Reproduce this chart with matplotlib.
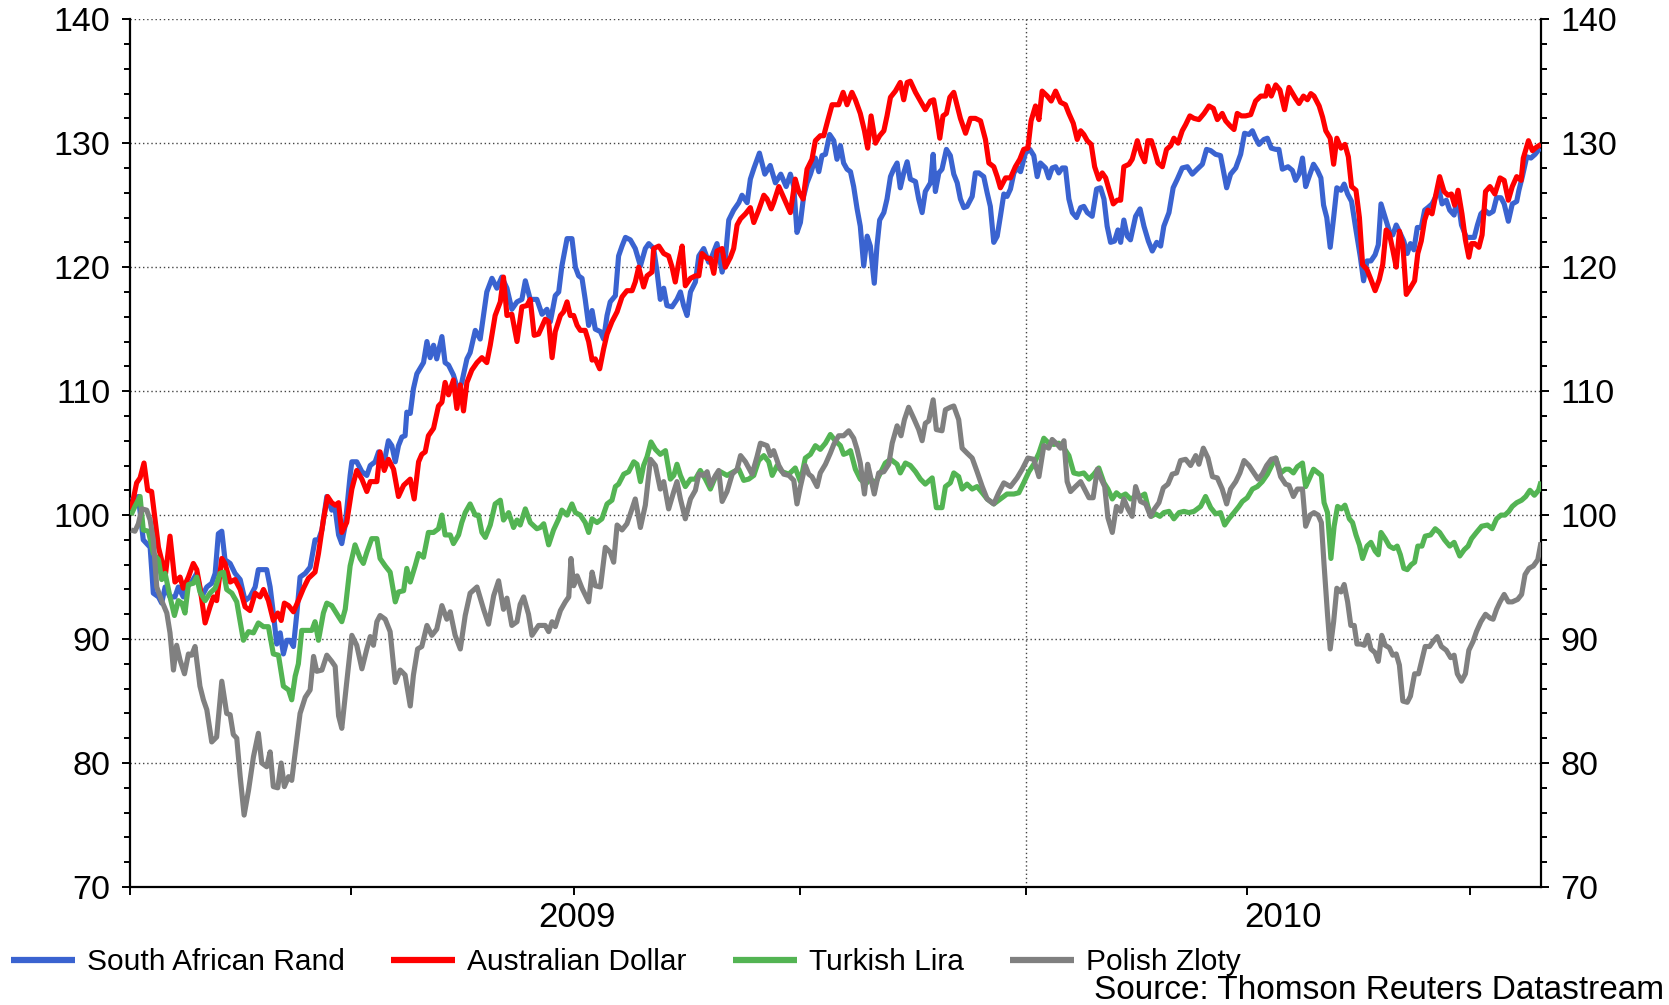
import numpy as np
import matplotlib
matplotlib.use("Agg")
import matplotlib.pyplot as plt
import matplotlib.dates as mdates
from matplotlib.ticker import MultipleLocator, FixedLocator, NullFormatter, FixedFormatter

plt.rcParams['font.family'] = ['Liberation Sans', 'DejaVu Sans']

# ---------------- data (days since 2009-01-01, index values) ----------------
START = np.datetime64('2009-01-01')
END = np.datetime64('2010-07-30')

zar_days = [0.4, 3.4, 5.4, 8.2, 9.5, 11.6, 12.9, 14.3, 16.3, 18.3, 19.7, 21.7, 23.1, 25.1, 27.2, 29.2, 31.3, 33.3, 34.7, 36.0,
            37.4, 38.7, 40.8, 42.8, 44.9, 46.9, 48.9, 51.0, 52.3, 54.4, 55.7, 57.1, 58.4, 59.8, 61.2, 62.5, 63.9, 65.2, 66.6, 68.0,
            69.3, 71.4, 73.4, 75.4, 76.8, 78.2, 80.2, 82.2, 83.6, 85.0, 86.3, 87.7, 89.7, 90.4, 92.4, 94.5, 96.5, 97.9, 99.9, 101.3,
            103.3, 105.3, 106.7, 108.1, 109.4, 110.8, 112.1, 112.8, 114.2, 115.5, 116.9, 119.6, 121.0, 122.3, 123.7, 125.0, 127.1, 128.4, 129.8, 131.8,
            133.9, 135.2, 137.3, 138.6, 140.7, 142.7, 145.4, 147.5, 149.5, 151.5, 153.6, 155.6, 157.7, 159.7, 161.1, 163.1, 165.8, 167.9, 169.9, 171.3,
            173.3, 174.7, 176.0, 178.1, 180.1, 181.5, 182.8, 184.2, 185.5, 186.9, 188.3, 189.6, 191.7, 193.0, 194.4, 195.7, 197.8, 199.1, 200.5, 201.9,
            203.9, 205.9, 208.0, 210.0, 211.4, 213.4, 214.8, 216.1, 217.5, 218.8, 220.9, 222.9, 224.3, 225.6, 227.0, 228.4, 230.4, 231.8, 233.8, 235.8,
            237.2, 239.2, 241.3, 242.6, 244.0, 246.0, 248.1, 249.4, 251.5, 252.8, 254.3, 256.5, 258.7, 260.9, 263.0, 265.2, 267.4, 269.1, 270.5, 271.8,
            273.2, 274.5, 275.9, 277.3, 279.3, 280.7, 282.0, 283.4, 285.1, 286.8, 288.1, 289.5, 290.8, 292.2, 293.6, 294.9, 296.3, 297.6, 299.0, 300.4,
            301.7, 303.3, 304.4, 305.5, 307.2, 308.5, 309.9, 311.2, 312.6, 313.9, 315.3, 316.7, 318.0, 320.1, 321.4, 322.8, 324.1, 326.2, 327.3, 328.2,
            329.6, 330.9, 332.7, 334.3, 335.7, 337.1, 338.4, 339.8, 341.1, 343.2, 344.5, 345.9, 347.9, 349.3, 350.6, 352.0, 353.4, 354.7, 356.1, 357.4,
            358.8, 360.2, 361.5, 362.9, 364.9, 366.7, 368.3, 369.7, 371.0, 373.1, 374.4, 375.8, 377.2, 378.5, 379.9, 381.2, 382.6, 384.0, 385.7, 387.4,
            388.7, 390.1, 392.1, 393.9, 395.5, 396.9, 398.2, 399.6, 401.2, 402.6, 403.7, 405.0, 406.4, 407.7, 409.8, 411.6, 413.2, 415.0, 416.6, 418.4,
            420.0, 421.3, 423.4, 425.1, 426.8, 428.8, 430.9, 432.9, 434.9, 437.0, 438.7, 440.4, 442.4, 444.4, 446.9, 448.5, 450.6, 452.6, 454.2, 456.0,
            457.4, 458.7, 460.1, 462.1, 463.5, 465.1, 466.9, 468.2, 469.6, 471.9, 473.7, 475.0, 476.4, 477.8, 479.1, 480.5, 482.3, 483.9, 485.3, 486.4,
            487.7, 489.1, 490.5, 491.8, 493.5, 494.8, 496.2, 497.8, 499.6, 501.4, 502.7, 504.1, 505.7, 507.4, 508.7, 509.8, 511.5, 513.2, 514.6, 516.0,
            517.7, 519.1, 520.5, 521.8, 523.2, 524.6, 526.2, 527.6, 528.9, 530.6, 531.9, 533.3, 534.7, 536.4, 537.8, 539.6, 540.9, 542.6, 544.6, 546.4,
            547.8, 549.1, 550.5, 552.1, 553.8, 555.5, 556.9, 558.7, 560.0, 561.7, 563.3, 565.1, 566.0, 567.4, 569.2, 570.9, 572.6, 574.6]
zar = [101.2, 101.5, 98.0, 97.4, 93.7, 93.4, 92.9, 94.2, 93.4, 93.4, 94.2, 93.4, 94.2, 94.6, 95.3, 93.4, 94.2, 94.5, 95.3, 98.5,
       98.7, 96.4, 96.1, 95.3, 94.8, 93.1, 93.4, 94.2, 95.6, 95.6, 95.6, 94.2, 92.1, 89.6, 90.5, 88.8, 89.9, 89.9, 89.4, 92.1,
       95.0, 95.3, 95.8, 98.0, 98.0, 98.8, 101.5, 100.4, 100.5, 98.4, 97.7, 99.2, 103.2, 104.3, 104.3, 103.5, 103.2, 104.0, 104.3, 105.1,
       104.0, 106.0, 105.6, 104.3, 105.6, 106.3, 106.4, 108.3, 108.2, 110.2, 111.4, 112.3, 114.0, 112.7, 113.7, 112.6, 114.4, 112.3, 112.1, 111.3,
       109.9, 110.7, 112.6, 113.1, 114.9, 114.2, 118.0, 119.1, 118.3, 119.2, 118.3, 116.6, 117.2, 117.4, 118.9, 117.4, 117.4, 116.2, 116.6, 115.6,
       117.7, 118.0, 120.1, 122.3, 122.3, 120.0, 119.3, 119.1, 117.4, 115.3, 116.5, 115.0, 114.8, 114.2, 116.1, 117.2, 117.7, 120.9, 121.7, 122.4,
       122.2, 121.5, 120.1, 121.5, 121.9, 121.5, 119.6, 117.4, 118.3, 116.9, 116.8, 117.4, 118.0, 116.9, 116.1, 118.0, 118.8, 120.9, 121.5, 120.4,
       120.9, 121.9, 119.6, 120.7, 123.8, 124.6, 125.2, 125.8, 125.2, 127.1, 128.0, 129.2, 127.5, 128.2, 126.8, 127.5, 126.5, 127.5, 126.5, 122.8,
       123.6, 125.7, 126.8, 127.5, 128.8, 127.7, 129.0, 129.1, 130.7, 130.2, 128.7, 129.8, 128.4, 127.9, 127.7, 126.5, 124.7, 123.3, 120.1, 122.5,
       121.7, 118.7, 121.7, 123.8, 124.4, 125.5, 127.3, 127.9, 128.4, 126.4, 127.6, 128.5, 127.1, 126.9, 125.5, 124.4, 126.1, 126.8, 129.1, 126.1,
       127.6, 127.9, 129.5, 129.0, 127.5, 126.8, 125.5, 124.8, 124.9, 125.7, 127.6, 127.6, 127.3, 126.0, 124.9, 122.0, 122.5, 124.1, 125.9, 125.7,
       126.3, 127.6, 128.0, 127.7, 129.2, 129.5, 129.0, 127.3, 128.4, 128.0, 127.2, 128.0, 128.1, 127.6, 128.0, 128.0, 125.5, 124.4, 124.0, 124.8,
       124.9, 124.4, 124.1, 126.3, 126.4, 125.5, 123.3, 122.0, 122.1, 123.0, 122.0, 123.8, 122.5, 122.2, 124.1, 124.7, 123.3, 122.1, 121.3, 122.0,
       121.7, 123.3, 124.4, 126.4, 127.1, 128.0, 128.1, 127.5, 127.9, 128.3, 129.5, 129.4, 129.1, 129.0, 126.4, 127.5, 128.0, 129.1, 130.8, 130.7,
       131.0, 130.4, 129.9, 130.3, 130.4, 129.6, 129.5, 129.5, 127.9, 128.1, 127.8, 127.0, 127.5, 128.8, 126.5, 127.3, 128.3, 127.8, 127.2, 125.0,
       124.0, 121.6, 124.0, 126.4, 126.2, 126.7, 125.9, 125.3, 123.0, 120.8, 118.9, 120.5, 120.5, 121.0, 121.8, 125.1, 124.0, 122.9, 122.6, 123.4,
       122.7, 122.1, 121.1, 121.9, 121.4, 123.2, 123.2, 124.6, 124.8, 125.1, 125.6, 126.4, 125.1, 125.4, 124.6, 124.2, 125.8, 123.4, 122.4, 122.4,
       122.4, 123.4, 124.3, 124.6, 124.3, 124.5, 125.6, 125.6, 125.1, 123.7, 125.1, 125.3, 126.2, 127.3, 128.9, 128.8, 129.1, 129.6]

aud_days = [0.4, 2.7, 4.1, 5.7, 7.2, 8.8, 11.6, 13.6, 14.5, 16.3, 18.3, 20.4, 21.7, 23.8, 25.8, 27.2, 28.5, 30.6, 32.6, 34.0,
            35.3, 37.4, 38.7, 40.8, 42.8, 44.9, 46.9, 48.9, 51.0, 53.0, 54.4, 56.4, 58.4, 60.2, 61.6, 62.9, 64.6, 66.6, 68.6, 70.7,
            72.7, 75.4, 76.8, 78.8, 80.5, 82.2, 83.6, 85.0, 86.3, 88.3, 90.4, 92.4, 94.5, 96.5, 97.9, 100.6, 101.9, 103.6, 105.3, 107.4,
            109.4, 111.5, 114.2, 115.8, 117.6, 118.9, 120.3, 121.6, 123.7, 125.7, 127.1, 128.4, 129.8, 131.8, 133.2, 134.6, 135.9, 137.3, 139.3, 141.4,
            143.4, 145.4, 146.8, 148.8, 150.9, 152.2, 153.6, 155.6, 157.7, 159.7, 161.7, 163.1, 164.7, 166.5, 169.2, 170.6, 172.0, 173.3, 175.4, 176.7,
            178.1, 179.4, 180.8, 182.2, 183.5, 185.5, 186.9, 188.3, 189.6, 191.4, 193.0, 194.4, 196.4, 198.5, 200.5, 202.5, 204.6, 205.9, 207.3, 209.3,
            210.7, 212.7, 213.4, 215.5, 217.5, 219.5, 220.9, 222.2, 223.6, 225.0, 226.3, 228.4, 230.4, 231.8, 233.1, 235.2, 236.5, 237.9, 239.2, 241.3,
            242.6, 244.7, 246.0, 247.4, 248.8, 250.8, 252.8, 254.2, 256.2, 258.3, 259.6, 261.3, 262.3, 264.4, 266.4, 269.1, 271.1, 272.5, 274.3, 275.9,
            277.9, 279.3, 281.3, 282.7, 284.3, 286.1, 288.8, 290.6, 292.2, 294.2, 295.6, 297.6, 299.3, 300.6, 302.0, 303.8, 305.5, 307.2, 308.5, 309.9,
            311.9, 313.9, 315.3, 316.7, 318.0, 320.1, 322.1, 324.1, 326.2, 327.5, 328.9, 330.0, 331.3, 332.7, 334.1, 335.7, 337.1, 338.4, 340.5, 342.5,
            344.5, 346.6, 348.6, 350.0, 352.0, 353.4, 354.7, 356.8, 358.8, 360.8, 362.6, 364.2, 365.9, 367.2, 369.0, 370.4, 371.7, 373.8, 375.4, 377.2,
            379.2, 381.2, 382.6, 384.4, 386.0, 387.4, 388.7, 390.1, 391.7, 393.1, 394.8, 396.2, 397.6, 398.9, 400.7, 402.3, 403.7, 405.0, 407.1, 408.4,
            410.5, 412.1, 413.5, 414.8, 416.2, 417.5, 418.9, 420.7, 422.4, 424.1, 425.4, 427.1, 428.8, 430.2, 431.9, 433.6, 435.6, 437.7, 439.7, 441.5,
            443.1, 445.1, 446.5, 448.3, 449.9, 451.2, 452.9, 454.6, 456.7, 458.7, 460.8, 462.8, 463.7, 465.1, 466.9, 468.6, 470.5, 472.3, 475.0, 476.4,
            478.2, 479.8, 481.2, 482.5, 484.6, 486.0, 487.3, 489.1, 490.5, 491.8, 493.5, 495.1, 496.5, 497.8, 499.6, 501.0, 502.3, 504.1, 505.7, 507.4,
            509.1, 510.5, 511.9, 513.2, 514.6, 516.0, 517.3, 518.7, 520.1, 521.4, 523.5, 524.8, 526.2, 527.6, 528.9, 530.6, 531.9, 533.7, 535.5, 537.1,
            538.5, 539.8, 541.2, 542.8, 544.2, 545.6, 546.7, 548.0, 549.7, 551.0, 552.4, 554.2, 556.2, 558.3, 560.0, 561.7, 563.3, 565.1, 566.9, 567.8,
            569.9, 571.5, 573.3, 575.0]
aud = [100.4, 102.6, 103.0, 104.2, 102.0, 101.9, 97.4, 95.8, 95.3, 98.3, 94.6, 95.0, 94.1, 95.0, 96.1, 95.6, 94.2, 91.3, 92.6, 93.4,
       93.1, 96.5, 96.1, 94.6, 94.8, 94.0, 92.6, 92.3, 93.7, 93.4, 94.0, 93.1, 91.5, 92.1, 91.5, 92.9, 92.7, 92.2, 93.1, 94.1,
       94.9, 95.4, 96.9, 99.6, 101.5, 101.0, 100.8, 101.0, 98.6, 99.4, 102.1, 103.6, 102.9, 101.9, 102.7, 102.7, 105.1, 103.6, 104.5, 103.7,
       101.5, 102.4, 102.9, 101.3, 104.3, 104.9, 105.1, 106.4, 107.0, 108.8, 109.1, 110.7, 109.7, 110.9, 108.6, 110.5, 108.4, 110.7, 111.7, 112.3,
       112.7, 112.3, 113.7, 116.1, 117.2, 119.2, 116.1, 116.2, 114.0, 116.8, 116.9, 117.4, 114.5, 114.6, 115.8, 115.6, 112.7, 114.8, 116.1, 116.4,
       117.2, 116.1, 116.1, 115.3, 114.9, 114.9, 114.0, 112.5, 112.6, 111.8, 113.4, 114.6, 115.6, 116.4, 117.6, 118.1, 118.1, 118.8, 120.0, 118.4,
       119.3, 119.6, 121.5, 121.7, 121.1, 120.9, 120.0, 118.8, 120.4, 121.7, 118.5, 119.1, 119.3, 119.3, 121.1, 120.7, 120.7, 119.5, 121.3, 121.5,
       120.0, 120.8, 121.5, 123.4, 123.9, 124.3, 124.8, 123.6, 124.6, 125.8, 125.5, 124.7, 125.2, 126.5, 125.6, 124.4, 127.1, 126.1, 125.5, 127.9,
       128.7, 130.2, 130.6, 130.6, 131.8, 133.1, 133.1, 134.1, 133.1, 134.1, 133.5, 132.4, 131.0, 129.6, 132.2, 130.0, 130.6, 131.0, 132.2, 133.7,
       134.2, 134.9, 133.5, 134.9, 135.0, 134.1, 133.4, 132.7, 133.4, 133.5, 131.9, 130.4, 132.2, 132.4, 133.7, 134.1, 133.0, 132.0, 130.8, 132.0,
       132.0, 131.8, 130.3, 128.4, 128.1, 127.3, 126.4, 127.2, 127.2, 128.1, 128.7, 129.5, 129.6, 131.8, 133.0, 131.9, 134.2, 133.8, 133.4, 134.2,
       133.3, 133.1, 132.4, 131.6, 130.3, 131.0, 130.7, 130.2, 129.9, 128.1, 127.1, 127.6, 127.2, 126.3, 125.1, 125.4, 125.4, 128.1, 128.3, 128.7,
       130.2, 129.1, 128.5, 130.2, 130.2, 129.4, 128.4, 128.1, 129.5, 129.8, 130.4, 130.0, 131.0, 131.5, 132.2, 132.0, 131.9, 132.4, 133.0, 132.8,
       131.9, 132.4, 131.8, 131.4, 131.1, 132.4, 132.2, 132.2, 132.3, 133.4, 133.8, 133.8, 134.6, 133.8, 134.7, 134.3, 132.7, 134.5, 133.6, 133.2,
       133.8, 133.5, 134.0, 133.8, 133.0, 132.1, 131.0, 130.4, 128.3, 130.4, 129.6, 129.9, 128.9, 126.5, 126.2, 124.0, 120.2, 119.8, 119.0, 118.1,
       119.0, 120.2, 123.0, 122.7, 121.4, 120.0, 122.9, 121.8, 117.8, 118.2, 118.9, 121.1, 122.1, 123.8, 124.6, 124.3, 125.6, 127.3, 126.1, 125.8,
       125.9, 125.0, 126.2, 124.3, 122.2, 120.8, 121.9, 121.9, 121.6, 122.6, 126.1, 126.5, 125.9, 127.2, 127.0, 125.4, 126.5, 127.3, 127.0, 128.8,
       130.2, 129.4, 129.7, 129.9]

try_days = [0.4, 2.0, 4.1, 5.4, 7.5, 9.5, 11.6, 12.9, 14.3, 16.3, 18.1, 19.7, 21.1, 22.4, 23.8, 25.8, 27.2, 28.5, 30.6, 32.6,
            34.7, 36.7, 38.1, 39.4, 41.5, 43.5, 46.2, 48.3, 50.3, 52.3, 54.4, 56.4, 58.4, 60.5, 62.5, 64.6, 65.9, 67.3, 68.6, 70.0,
            72.0, 74.1, 75.4, 76.8, 78.8, 80.2, 82.2, 85.0, 86.3, 87.7, 89.7, 91.7, 93.8, 95.1, 96.5, 98.5, 100.6, 101.9, 104.0, 106.0,
            108.1, 109.4, 111.5, 112.8, 114.2, 116.2, 117.6, 119.6, 121.6, 123.7, 125.7, 127.1, 128.4, 130.5, 131.8, 133.9, 135.2, 136.6, 138.6, 140.7,
            142.0, 143.4, 144.8, 146.8, 148.8, 150.9, 152.2, 154.3, 156.3, 157.7, 159.0, 161.1, 163.1, 165.8, 167.2, 168.6, 170.6, 172.6, 174.7, 176.0,
            178.1, 180.1, 181.5, 183.5, 185.5, 186.9, 188.3, 190.3, 192.3, 194.4, 196.4, 197.8, 199.1, 201.2, 203.2, 205.3, 206.6, 208.0, 209.3, 210.7,
            212.3, 214.1, 216.1, 218.2, 220.2, 221.6, 222.9, 224.3, 226.3, 228.4, 230.4, 232.4, 234.5, 236.5, 238.6, 240.6, 243.3, 246.0, 248.1, 250.1,
            252.1, 254.2, 256.2, 258.3, 260.3, 261.7, 263.7, 265.7, 268.5, 271.1, 273.2, 275.2, 277.3, 279.3, 281.3, 283.4, 285.4, 287.4, 289.5, 290.8,
            292.2, 293.6, 295.6, 297.6, 299.7, 301.7, 303.8, 305.8, 307.8, 309.9, 312.6, 313.9, 316.0, 318.0, 320.1, 322.1, 324.1, 326.9, 328.6, 330.9,
            332.3, 334.3, 335.7, 337.7, 339.1, 341.1, 343.2, 345.2, 347.3, 349.3, 352.0, 354.7, 357.4, 360.2, 362.2, 364.2, 366.3, 368.3, 370.4, 372.4,
            374.4, 376.5, 378.5, 380.6, 382.6, 384.6, 386.7, 388.7, 390.8, 392.8, 394.8, 396.9, 398.5, 400.3, 402.0, 403.7, 405.7, 407.7, 409.8, 411.8,
            413.5, 414.8, 416.2, 417.9, 419.7, 421.3, 423.4, 425.4, 427.5, 429.5, 431.5, 433.6, 436.3, 438.3, 440.4, 442.4, 444.4, 446.1, 447.8, 449.9,
            451.9, 453.3, 455.3, 457.4, 459.4, 461.4, 463.5, 465.5, 466.9, 468.9, 470.9, 472.3, 474.1, 475.7, 477.8, 479.1, 480.5, 482.3, 484.2, 485.5,
            486.6, 488.0, 489.4, 490.7, 492.1, 493.7, 495.1, 496.9, 498.2, 499.6, 501.0, 502.3, 504.1, 505.7, 507.4, 508.7, 509.8, 511.5, 513.2, 515.0,
            516.4, 517.7, 519.1, 520.5, 522.1, 523.5, 524.8, 526.5, 527.8, 530.0, 531.9, 533.7, 535.7, 537.8, 539.6, 541.9, 543.7, 545.3, 546.7, 548.7,
            550.8, 553.2, 555.1, 556.9, 558.7, 560.3, 561.9, 563.3, 565.1, 567.1, 568.8, 570.5, 572.3, 574.0, 575.0]
tryl = [100.0, 100.7, 101.5, 98.8, 98.7, 96.9, 96.4, 94.8, 95.3, 93.4, 91.9, 93.1, 92.9, 92.1, 94.4, 94.5, 95.0, 93.8, 93.1, 93.7,
        94.1, 95.3, 95.4, 94.0, 93.7, 93.0, 89.9, 90.6, 90.5, 91.3, 91.0, 91.0, 88.8, 88.7, 86.2, 85.9, 85.1, 87.0, 88.0, 90.7,
        90.7, 90.7, 91.4, 89.9, 92.1, 92.9, 92.7, 91.8, 91.4, 92.4, 95.9, 97.6, 96.5, 96.1, 97.0, 98.1, 98.1, 96.5, 95.9, 95.4,
        93.0, 93.8, 93.9, 95.7, 94.6, 95.9, 96.9, 96.6, 98.6, 98.6, 98.9, 100.0, 98.4, 98.4, 97.7, 98.4, 99.4, 100.2, 100.9, 100.0,
        100.0, 98.6, 98.2, 99.2, 100.9, 101.2, 99.6, 100.2, 99.0, 99.6, 99.2, 100.5, 99.4, 98.9, 99.0, 99.3, 97.6, 98.8, 99.7, 100.4,
        100.0, 100.9, 100.2, 100.0, 99.4, 98.6, 99.7, 99.4, 99.7, 100.9, 101.2, 102.3, 102.5, 103.3, 103.5, 104.3, 104.1, 102.7, 104.0, 104.7,
        105.9, 105.3, 104.9, 105.2, 102.9, 103.2, 104.1, 103.2, 102.3, 102.9, 102.9, 103.6, 102.9, 102.1, 103.1, 103.5, 103.2, 103.5, 103.7, 102.8,
        102.9, 103.2, 104.4, 104.8, 104.3, 103.2, 104.0, 103.5, 103.3, 103.8, 102.7, 104.6, 104.9, 105.6, 105.3, 105.8, 106.5, 106.0, 105.6, 104.9,
        105.0, 105.2, 103.7, 102.9, 102.5, 102.9, 102.6, 103.4, 104.2, 104.5, 104.1, 103.4, 104.2, 104.0, 103.5, 102.9, 102.5, 103.0, 100.6, 100.6,
        102.3, 102.6, 103.4, 103.1, 102.1, 102.5, 102.1, 102.3, 101.8, 101.3, 100.9, 101.3, 101.7, 101.7, 101.8, 102.6, 103.5, 104.1, 105.0, 106.2,
        105.8, 105.7, 105.8, 105.4, 104.8, 103.4, 103.3, 103.4, 102.9, 103.3, 103.8, 102.6, 102.1, 101.3, 101.8, 101.5, 101.7, 101.3, 101.5, 101.5,
        101.7, 100.7, 99.9, 100.1, 99.9, 100.2, 100.3, 99.7, 100.2, 100.3, 100.2, 100.3, 100.7, 101.5, 100.6, 100.1, 100.2, 99.2, 99.7, 100.2,
        100.7, 101.1, 101.4, 102.1, 102.3, 102.7, 103.3, 104.1, 104.6, 103.4, 103.7, 103.7, 103.4, 103.9, 104.2, 102.3, 102.9, 103.7, 103.4, 103.2,
        101.0, 100.2, 96.5, 99.1, 100.7, 100.5, 100.8, 99.7, 99.4, 98.4, 97.6, 96.5, 97.5, 97.8, 97.1, 96.8, 98.6, 98.1, 97.5, 97.3,
        97.5, 96.8, 95.7, 95.6, 96.0, 96.2, 97.5, 97.5, 98.3, 98.4, 98.9, 98.6, 98.0, 97.5, 97.8, 96.7, 97.2, 97.5, 98.1, 98.6,
        99.1, 99.2, 98.9, 99.7, 100.0, 100.0, 100.3, 100.7, 101.0, 101.2, 101.5, 102.0, 101.6, 102.0, 102.7]

pln_days = [0.4, 2.0, 3.4, 4.8, 6.8, 8.2, 9.5, 10.9, 12.9, 15.0, 16.3, 17.7, 19.0, 20.4, 22.2, 23.8, 25.1, 26.5, 28.5, 29.9,
            31.3, 33.3, 35.3, 37.4, 39.4, 40.8, 42.1, 43.5, 44.9, 46.5, 48.3, 50.3, 52.3, 53.7, 55.7, 57.1, 58.4, 60.2, 61.6, 62.9,
            64.6, 65.9, 67.3, 69.3, 71.4, 73.4, 74.8, 76.1, 78.2, 80.2, 82.2, 83.6, 85.0, 86.3, 88.3, 90.4, 92.4, 94.5, 96.5, 97.9,
            99.2, 100.6, 101.9, 104.0, 106.0, 108.1, 110.1, 112.1, 114.2, 115.5, 117.2, 118.9, 121.0, 123.0, 125.0, 127.1, 129.1, 130.5, 132.5, 134.6,
            136.6, 138.6, 141.4, 144.1, 146.1, 148.2, 150.2, 152.2, 153.6, 155.6, 157.7, 159.0, 160.4, 162.4, 163.8, 166.5, 169.2, 170.6, 172.0, 173.3,
            175.4, 177.4, 178.8, 179.7, 180.8, 182.2, 184.2, 186.9, 188.3, 189.6, 191.7, 193.7, 195.7, 197.1, 198.5, 200.5, 202.5, 203.9, 205.9, 208.0,
            210.0, 212.1, 214.1, 216.1, 217.5, 219.5, 221.6, 222.9, 224.3, 226.3, 228.4, 230.4, 231.8, 233.8, 235.2, 236.5, 238.6, 239.9, 241.3, 243.3,
            245.4, 247.4, 248.8, 250.8, 253.5, 255.5, 256.9, 259.6, 261.0, 262.3, 264.4, 266.4, 268.5, 270.5, 271.8, 273.2, 275.2, 276.6, 277.9, 280.0,
            281.3, 283.4, 285.4, 286.8, 288.8, 290.8, 292.9, 294.9, 296.3, 297.6, 299.3, 300.6, 302.0, 303.3, 305.1, 307.2, 309.2, 310.6, 312.6, 314.2,
            315.6, 317.3, 319.4, 321.4, 322.8, 324.1, 325.5, 327.3, 328.6, 330.9, 332.3, 334.3, 335.7, 337.7, 339.1, 341.1, 343.2, 345.2, 347.3, 349.3,
            352.0, 354.0, 356.1, 358.8, 361.5, 363.6, 365.9, 368.3, 370.4, 372.4, 374.4, 375.8, 377.9, 379.2, 380.6, 381.9, 383.3, 385.3, 387.4, 388.7,
            390.8, 392.5, 394.2, 395.8, 397.2, 398.5, 400.3, 402.0, 403.7, 405.0, 406.7, 408.4, 409.8, 411.8, 413.9, 415.9, 417.5, 419.3, 421.1, 423.0,
            424.7, 426.5, 428.1, 430.2, 432.2, 434.3, 435.6, 437.4, 439.3, 441.1, 443.1, 445.1, 446.9, 448.5, 450.6, 452.3, 454.0, 456.0, 458.0, 459.7,
            461.4, 463.2, 465.1, 466.9, 468.9, 470.9, 472.3, 474.1, 475.7, 477.8, 479.1, 480.9, 482.5, 484.2, 485.5, 486.6, 488.0, 489.1, 490.5, 491.8,
            493.5, 494.8, 496.2, 497.5, 498.9, 500.0, 501.6, 503.0, 504.4, 505.7, 507.4, 508.7, 510.1, 511.5, 513.2, 514.6, 516.0, 517.3, 518.7, 520.5,
            521.8, 523.5, 525.1, 526.2, 527.8, 529.6, 531.4, 532.7, 534.4, 536.4, 538.2, 539.6, 540.9, 542.6, 544.2, 545.6, 547.3, 548.7, 550.5, 552.4,
            554.2, 555.5, 556.9, 558.3, 560.0, 561.7, 563.3, 565.5, 567.1, 568.5, 570.1, 571.9, 573.7, 575.0]
pln = [98.8, 98.7, 99.3, 100.5, 100.4, 99.6, 98.0, 94.2, 93.1, 92.1, 90.5, 87.5, 89.5, 88.3, 87.2, 88.8, 88.7, 89.4, 86.2, 85.1,
       84.3, 81.7, 82.1, 86.6, 84.0, 83.9, 82.3, 82.0, 78.9, 75.8, 77.8, 80.5, 82.4, 80.0, 79.7, 80.9, 78.1, 78.0, 80.0, 78.1,
       78.9, 78.6, 80.8, 84.0, 85.3, 85.9, 88.6, 87.4, 87.5, 88.7, 88.2, 87.8, 83.8, 82.8, 86.5, 90.3, 89.5, 87.6, 89.2, 90.2,
       89.5, 91.4, 91.9, 91.6, 90.6, 86.5, 87.5, 87.1, 84.6, 87.1, 89.2, 89.4, 91.1, 90.3, 90.8, 92.7, 91.6, 92.2, 90.3, 89.2,
       91.9, 93.7, 94.2, 92.4, 91.2, 93.5, 94.7, 92.4, 93.3, 91.1, 91.4, 92.8, 93.4, 92.0, 90.3, 91.1, 91.1, 90.6, 91.4, 91.0,
       92.3, 93.0, 93.4, 96.5, 94.3, 95.1, 94.1, 93.0, 95.4, 94.3, 94.2, 97.4, 97.0, 96.2, 99.2, 98.8, 99.3, 100.1, 101.3, 99.0,
       100.8, 104.5, 104.0, 102.1, 102.7, 100.5, 101.9, 102.7, 101.3, 99.7, 101.3, 102.0, 103.3, 103.2, 103.5, 102.4, 103.2, 103.6, 101.1, 101.9,
       103.3, 103.7, 104.8, 104.3, 103.3, 104.7, 105.8, 105.6, 104.8, 105.2, 104.0, 103.3, 103.2, 102.8, 100.9, 102.3, 104.0, 103.3, 103.1, 102.3,
       103.4, 104.1, 105.0, 105.7, 106.4, 106.4, 106.8, 106.2, 105.3, 104.2, 101.7, 104.1, 102.9, 101.7, 103.4, 103.5, 104.1, 105.8, 107.2, 106.4,
       107.7, 108.7, 107.8, 106.9, 106.0, 107.4, 107.6, 109.3, 106.9, 106.8, 108.5, 108.7, 108.8, 107.7, 105.4, 105.0, 104.6, 103.5, 102.3, 101.3,
       100.9, 101.8, 102.6, 102.3, 103.0, 103.7, 104.6, 104.5, 103.1, 105.6, 105.4, 106.1, 105.7, 105.4, 106.0, 102.7, 101.9, 102.3, 102.7, 102.2,
       101.4, 101.4, 103.7, 102.9, 102.3, 99.8, 98.6, 100.7, 100.3, 101.3, 100.5, 99.9, 102.3, 101.1, 100.9, 99.9, 100.5, 101.0, 102.2, 102.5,
       103.3, 103.4, 104.4, 104.5, 104.0, 104.8, 104.1, 105.4, 104.6, 103.1, 103.0, 102.1, 100.9, 102.1, 102.7, 103.4, 104.4, 104.0, 103.4, 102.9,
       103.3, 104.0, 104.5, 104.6, 103.1, 102.5, 102.4, 101.5, 102.1, 102.1, 99.1, 100.0, 100.2, 100.0, 99.4, 96.0, 92.0, 89.2, 91.4, 94.1,
       93.8, 94.4, 93.0, 91.1, 91.1, 89.6, 89.6, 89.5, 90.3, 89.2, 88.9, 88.2, 90.3, 89.5, 89.3, 88.7, 88.8, 87.9, 85.0, 84.9,
       85.4, 87.2, 87.2, 88.1, 89.4, 89.4, 89.9, 90.2, 89.4, 89.1, 88.5, 88.7, 87.2, 86.6, 87.2, 89.1, 89.8, 90.6, 91.4, 92.0,
       91.7, 91.6, 92.4, 93.0, 93.6, 93.0, 93.0, 93.2, 93.6, 95.2, 95.7, 95.9, 96.4, 97.8]

series_names = ['South African Rand', 'Australian Dollar', 'Turkish Lira', 'Polish Zloty']
series_colors = ['#3a63d0', '#ff0000', '#53b453', '#808080']
series_days = [zar_days, aud_days, try_days, pln_days]
series_vals = [zar, aud, tryl, pln]

y_ticks = [70, 80, 90, 100, 110, 120, 130, 140]
quarter_ticks = ['2009-01-01', '2009-04-01', '2009-07-01', '2009-10-01',
                 '2010-01-01', '2010-04-01', '2010-07-01']
year_label_pos = ['2009-07-02', '2010-04-16']
year_labels = ['2009', '2010']
year_divider = '2010-01-01'

# ---------------- figure ----------------
base = mdates.date2num(START)
fig = plt.figure(figsize=(16.69, 10.05), dpi=100)
ax = fig.add_axes([0.0779, 0.1174, 0.8454, 0.8635])

for d, v, c, n in zip(series_days, series_vals, series_colors, series_names):
    ax.plot(base + np.asarray(d), v, color=c, lw=3.7, label=n,
            solid_joinstyle='round', solid_capstyle='butt', zorder=3)

ax.set_xlim(base, mdates.date2num(END))
ax.set_ylim(y_ticks[0], y_ticks[-1])

# y axis
ax.yaxis.set_major_locator(FixedLocator(y_ticks))
ax.yaxis.set_minor_locator(MultipleLocator(2))
ax.tick_params(axis='y', which='both', direction='out', left=True, right=True,
               labelleft=True, labelright=True, labelsize=24.5, width=1.4, colors='black')
ax.tick_params(axis='y', which='major', length=6, pad=8)
ax.tick_params(axis='y', which='minor', length=4.5)

# x axis
qt = [mdates.date2num(np.datetime64(q)) for q in quarter_ticks]
ax.xaxis.set_major_locator(FixedLocator(qt))
ax.xaxis.set_major_formatter(NullFormatter())
ax.xaxis.set_minor_locator(FixedLocator([mdates.date2num(np.datetime64(p)) for p in year_label_pos]))
ax.xaxis.set_minor_formatter(FixedFormatter(year_labels))
ax.tick_params(axis='x', which='major', direction='out', length=5.5, width=1.4)
ax.tick_params(axis='x', which='minor', length=0, pad=10, labelsize=25)

# grid
ax.grid(axis='y', which='major', linestyle=(0, (1, 2)), color='#444444', lw=1.0, zorder=1)
ax.axvline(mdates.date2num(np.datetime64(year_divider)), linestyle=(0, (1, 2)),
           color='#444444', lw=1.0, zorder=1)

for s in ['left', 'right', 'bottom']:
    ax.spines[s].set_linewidth(1.6)
    ax.spines[s].set_color('black')
ax.spines['top'].set_visible(False)

# legend
fig.legend(loc='center left', bbox_to_anchor=(0.0064, 0.0428), ncol=4, frameon=False,
           fontsize=21.5, handlelength=2.15, handletextpad=0.4, columnspacing=1.55,
           borderpad=0, borderaxespad=0)
for line in fig.legends[0].get_lines():
    line.set_linewidth(4.5)

fig.text(0.997, 0.014, 'Source: Thomson Reuters Datastream', ha='right', va='center', fontsize=24)

fig.savefig('out.png', dpi=100)
